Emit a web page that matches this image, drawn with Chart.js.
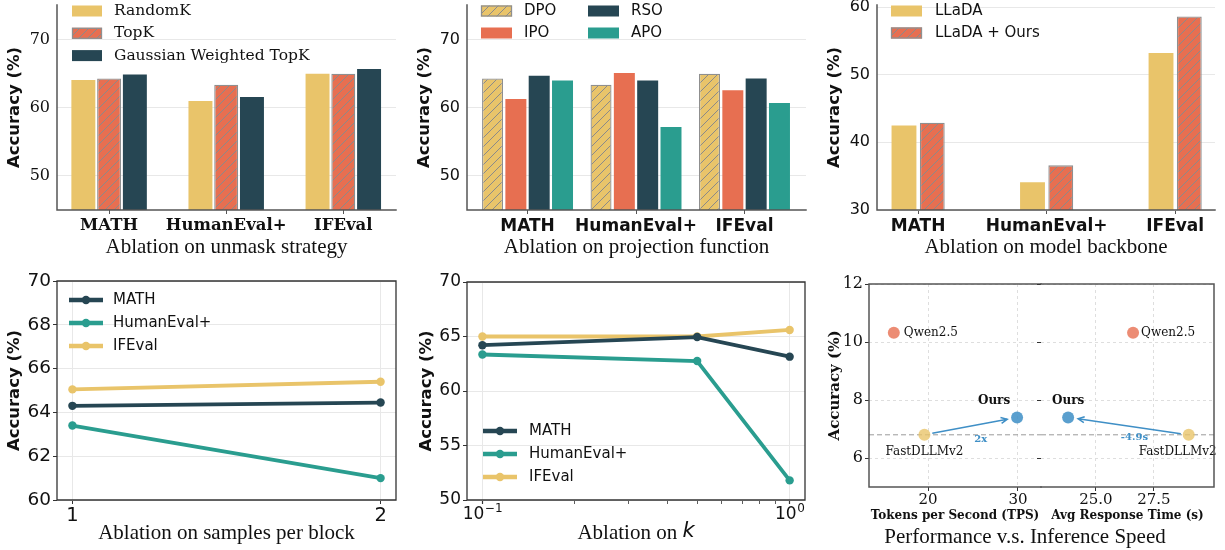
<!DOCTYPE html>
<html>
<head>
<meta charset="utf-8">
<script src="https://cdn.jsdelivr.net/npm/chart.js@4.4.1/dist/chart.umd.min.js"></script>
<style>
  html, body { margin: 0; padding: 0; background: #fff; }
  #wrap { position: relative; width: 1225px; height: 550px; }
  #wrap canvas { position: absolute; left: 0; top: 0; }
</style>
</head>
<body>
<div id="wrap">
  <canvas id="unmask" width="1225" height="550"></canvas>
  <canvas id="projection" width="1225" height="550"></canvas>
  <canvas id="backbone" width="1225" height="550"></canvas>
  <canvas id="samples" width="1225" height="550"></canvas>
  <canvas id="kAblation" width="1225" height="550"></canvas>
  <canvas id="speedTps" width="1225" height="550"></canvas>
  <canvas id="speedTime" width="1225" height="550"></canvas>
</div>
<script>
// ---- data ----
const benchmarks = ['MATH', 'HumanEval+', 'IFEval'];

// ablation on unmask strategy
const randomK = [64.1, 61.0, 65.0];
const topK = [64.3, 63.4, 65.0];
const gaussTopK = [64.9, 61.6, 65.7];

// ablation on projection function
const dpo = [64.3, 63.4, 65.0];
const ipo = [61.3, 65.1, 62.6];
const rso = [64.7, 64.0, 64.3];
const apo = [64.0, 57.2, 60.7];

// ablation on model backbone
const llada = [42.5, 34.1, 53.2];
const lladaOurs = [42.9, 36.6, 58.6];

// ablation on samples per block
const samplesPerBlock = [1, 2];
const samplesMath = [64.3, 64.45];
const samplesHuman = [63.4, 61.0];
const samplesIfeval = [65.05, 65.4];

// ablation on k
const kValues = [0.1, 0.5, 1.0];
const kMath = [64.2, 64.95, 63.15];
const kHuman = [63.35, 62.75, 51.8];
const kIfeval = [65.0, 65.0, 65.6];

// performance vs inference speed
const speedModels = ['Qwen2.5', 'FastDLLMv2', 'Ours'];
const tps = [16.2, 19.6, 29.9];
const respTime = [26.6, 29.0, 23.8];
const speedAcc = [10.32, 6.8, 7.4];
const speedupLabels = ['2x', '-4.9s'];

// ---- style ----
const W = 1225, H = 550;
const YELLOW = '#E9C46A', ORANGE = '#E76F51', DARK = '#264653', TEAL = '#2A9D8F';
const GRID = '#e8e8e8';
const SPINE = '#555555';
const INK = '#111111';
const ARROW = '#3f8fc6';

Chart.defaults.color = INK;
Chart.defaults.animation = false;

function pad(box, yW, xH) {
    return { left: box.l - yW, top: box.t, right: W - box.r, bottom: H - box.b - xH };
}

function fixY(width) {
    return s => { s.width = width; s.paddingTop = 0; s.paddingBottom = 0; };
}

function fixX(height) {
    return s => { s.height = height; s.paddingLeft = 0; s.paddingRight = 0; };
}

function setTicks(values) {
    return s => { s.ticks = values.map(v => ({ value: v })); };
}

function hatch(canvasId, color) {
    const t = document.createElement('canvas');
    t.width = 9; t.height = 9;
    const g = t.getContext('2d');
    g.fillStyle = color;
    g.fillRect(0, 0, 9, 9);
    g.strokeStyle = '#8a8a8a';
    g.lineWidth = 1;
    g.beginPath();
    g.moveTo(-1, 10); g.lineTo(10, -1);
    g.moveTo(-2, 2); g.lineTo(2, -2);
    g.moveTo(7, 11); g.lineTo(11, 7);
    g.stroke();
    return document.getElementById(canvasId).getContext('2d').createPattern(t, 'repeat');
}

// axis spines drawn on the chart area edges
function frame(sides, color, width) {
    return {
        id: 'frame',
        afterDraw(chart) {
            const { ctx, chartArea: a } = chart;
            ctx.save();
            ctx.strokeStyle = color;
            ctx.lineWidth = width;
            ctx.lineCap = 'square';
            ctx.setLineDash([]);
            ctx.beginPath();
            if (sides.includes('l')) { ctx.moveTo(a.left, a.top); ctx.lineTo(a.left, a.bottom); }
            if (sides.includes('r')) { ctx.moveTo(a.right, a.top); ctx.lineTo(a.right, a.bottom); }
            if (sides.includes('t')) { ctx.moveTo(a.left, a.top); ctx.lineTo(a.right, a.top); }
            if (sides.includes('b')) { ctx.moveTo(a.left, a.bottom); ctx.lineTo(a.right, a.bottom); }
            ctx.stroke();
            ctx.restore();
        }
    };
}

// legend drawn inside the axes, like matplotlib
function inlineLegend(cfg) {
    return {
        id: 'inlineLegend',
        afterDraw(chart) {
            const { ctx } = chart;
            ctx.save();
            ctx.font = cfg.font;
            ctx.textBaseline = 'middle';
            ctx.textAlign = 'left';
            chart.data.datasets.forEach((ds, i) => {
                const col = Math.floor(i / cfg.perCol);
                const row = i % cfg.perCol;
                const x = cfg.x + col * (cfg.colW || 0);
                const y = cfg.y + row * cfg.rowH;
                if (cfg.kind === 'box') {
                    ctx.fillStyle = ds.backgroundColor;
                    ctx.fillRect(x, y - cfg.boxH / 2, cfg.boxW, cfg.boxH);
                    if (ds.borderWidth) {
                        ctx.strokeStyle = ds.borderColor;
                        ctx.lineWidth = ds.borderWidth;
                        ctx.strokeRect(x + 0.5, y - cfg.boxH / 2 + 0.5, cfg.boxW - 1, cfg.boxH - 1);
                    }
                } else {
                    ctx.strokeStyle = ds.borderColor;
                    ctx.lineWidth = ds.borderWidth + 0.5;
                    ctx.beginPath();
                    ctx.moveTo(x, y); ctx.lineTo(x + cfg.boxW, y);
                    ctx.stroke();
                    ctx.fillStyle = ds.borderColor;
                    ctx.beginPath();
                    ctx.arc(x + cfg.boxW / 2, y, ds.pointRadius, 0, Math.PI * 2);
                    ctx.fill();
                }
                ctx.fillStyle = INK;
                ctx.fillText(ds.label, x + cfg.boxW + cfg.gap, y);
            });
            ctx.restore();
        }
    };
}

function barPanel(id, cfg) {
    const yW = cfg.box.l - cfg.yTitleX + 16.5 * 0.6;
    const xH = cfg.xTitleY - cfg.box.b + 21 * 0.6;
    return new Chart(document.getElementById(id), {
        type: 'bar',
        data: {
            datasets: cfg.series.map(s => ({
                label: s.label,
                data: s.values.map((v, i) => ({ x: i, y: v })),
                backgroundColor: s.fill,
                borderColor: s.edge || 'rgba(0,0,0,0)',
                borderWidth: s.edge ? 1.3 : 0,
                borderSkipped: false,
                categoryPercentage: cfg.catPct,
                barPercentage: cfg.barPct
            }))
        },
        options: {
            responsive: false,
            events: [],
            layout: { padding: pad(cfg.box, yW, xH) },
            plugins: { legend: { display: false }, tooltip: { enabled: false } },
            scales: {
                x: {
                    type: 'linear',
                    offset: false,
                    min: cfg.xMin,
                    max: cfg.xMax,
                    afterBuildTicks: setTicks(benchmarks.map((b, i) => i)),
                    afterFit: fixX(xH),
                    grid: { drawOnChartArea: false, offset: false, color: 'rgba(0,0,0,0)', tickColor: SPINE, tickLength: 4 },
                    border: { display: false },
                    ticks: {
                        callback: v => benchmarks[Math.round(v)],
                        font: cfg.catFont,
                        color: INK,
                        padding: 2,
                        maxRotation: 0,
                        autoSkip: false
                    },
                    title: {
                        display: true,
                        text: cfg.xTitle,
                        font: { family: 'Liberation Serif', size: 21 },
                        color: INK,
                        padding: 0
                    }
                },
                y: {
                    min: cfg.yMin,
                    max: cfg.yMax,
                    afterBuildTicks: setTicks(cfg.yTicks),
                    afterFit: fixY(yW),
                    grid: { color: GRID, drawTicks: false },
                    border: { display: false },
                    ticks: { font: cfg.tickFont, color: INK, padding: 7 },
                    title: {
                        display: true,
                        text: 'Accuracy (%)',
                        font: { family: 'DejaVu Sans', weight: 'bold', size: 16.5 },
                        color: INK,
                        padding: 0
                    }
                }
            }
        },
        plugins: [frame('lb', SPINE, 1.5), inlineLegend(cfg.legend)]
    });
}

function lineSeries(label, color, xs, ys) {
    return {
        label: label,
        data: xs.map((x, i) => ({ x: x, y: ys[i] })),
        borderColor: color,
        backgroundColor: color,
        borderWidth: 3.8,
        pointRadius: 4.2,
        pointBackgroundColor: color,
        pointBorderWidth: 0,
        tension: 0
    };
}

function linePanel(id, cfg) {
    const yW = cfg.box.l - cfg.yTitleX + 16.5 * 0.6;
    const xH = cfg.xTitleY - cfg.box.b + 21 * 0.6;
    return new Chart(document.getElementById(id), {
        type: 'line',
        data: { datasets: cfg.series },
        options: {
            responsive: false,
            events: [],
            layout: { padding: pad(cfg.box, yW, xH) },
            plugins: { legend: { display: false }, tooltip: { enabled: false } },
            scales: {
                x: Object.assign({
                    min: cfg.xMin,
                    max: cfg.xMax,
                    afterFit: fixX(xH),
                    border: { display: false },
                    ticks: {
                        font: { family: 'DejaVu Sans', size: cfg.xTickSize },
                        color: INK,
                        padding: 0,
                        maxRotation: 0,
                        autoSkip: false
                    },
                    title: {
                        display: !!cfg.xTitle,
                        text: cfg.xTitle || '',
                        font: { family: 'Liberation Serif', size: 21 },
                        color: INK,
                        padding: 0
                    }
                }, cfg.xScale),
                y: {
                    min: cfg.yMin,
                    max: cfg.yMax,
                    afterBuildTicks: setTicks(cfg.yTicks),
                    afterFit: fixY(yW),
                    grid: { color: GRID, tickColor: '#333', tickLength: 4 },
                    border: { display: false },
                    ticks: { font: { family: 'DejaVu Sans', size: cfg.yTickSize }, color: INK, padding: 2 },
                    title: {
                        display: true,
                        text: 'Accuracy (%)',
                        font: { family: 'DejaVu Sans', weight: 'bold', size: 16.5 },
                        color: INK,
                        padding: 0
                    }
                }
            }
        },
        plugins: [frame('lrtb', '#333', 1.3), inlineLegend(cfg.legend)].concat(cfg.extra || [])
    });
}

// ---- top row: bar panels ----
barPanel('unmask', {
    box: { l: 57, r: 396, t: 5, b: 210 },
    yTitleX: 15, xTitleY: 247,
    xMin: -0.445, xMax: 2.45, yMin: 45, yMax: 75.1, yTicks: [50, 60, 70],
    catPct: 0.66, barPct: 0.93,
    catFont: { family: 'DejaVu Serif', weight: 'bold', size: 16.5 },
    tickFont: { family: 'DejaVu Serif', size: 16 },
    xTitle: 'Ablation on unmask strategy',
    series: [
        { label: 'RandomK', values: randomK, fill: YELLOW },
        { label: 'TopK', values: topK, fill: hatch('unmask', ORANGE), edge: '#8f8f8f' },
        { label: 'Gaussian Weighted TopK', values: gaussTopK, fill: DARK }
    ],
    legend: { kind: 'box', x: 72, y: 11, rowH: 22.3, perCol: 3, boxW: 30, boxH: 11, gap: 12, font: '15.5px "DejaVu Serif"' }
});

barPanel('projection', {
    box: { l: 467, r: 806, t: 5, b: 210 },
    yTitleX: 425, xTitleY: 247,
    xMin: -0.558, xMax: 2.567, yMin: 45, yMax: 75.1, yTicks: [50, 60, 70],
    catPct: 0.86, barPct: 0.9,
    catFont: { family: 'DejaVu Sans', weight: 'bold', size: 17 },
    tickFont: { family: 'DejaVu Sans', size: 16 },
    xTitle: 'Ablation on projection function',
    series: [
        { label: 'DPO', values: dpo, fill: hatch('projection', YELLOW), edge: '#8f8f8f' },
        { label: 'IPO', values: ipo, fill: ORANGE },
        { label: 'RSO', values: rso, fill: DARK },
        { label: 'APO', values: apo, fill: TEAL }
    ],
    legend: { kind: 'box', x: 481, y: 11, rowH: 22, perCol: 2, colW: 107, boxW: 31, boxH: 11, gap: 12, font: '15px "DejaVu Sans"' }
});

barPanel('backbone', {
    box: { l: 877, r: 1215, t: 5, b: 210 },
    yTitleX: 835, xTitleY: 247,
    xMin: -0.32, xMax: 2.31, yMin: 30, yMax: 60.3, yTicks: [30, 40, 50, 60],
    catPct: 0.44, barPct: 0.88,
    catFont: { family: 'DejaVu Sans', weight: 'bold', size: 17 },
    tickFont: { family: 'DejaVu Sans', size: 16 },
    xTitle: 'Ablation on model backbone',
    series: [
        { label: 'LLaDA', values: llada, fill: YELLOW },
        { label: 'LLaDA + Ours', values: lladaOurs, fill: hatch('backbone', ORANGE), edge: '#8f8f8f' }
    ],
    legend: { kind: 'box', x: 891, y: 11, rowH: 22, perCol: 2, boxW: 31, boxH: 11, gap: 13, font: '15px "DejaVu Sans"' }
});

// ---- bottom row: line panels ----
linePanel('samples', {
    box: { l: 57, r: 396, t: 281, b: 500 },
    yTitleX: 15, xTitleY: 533,
    xTickSize: 19.5, yTickSize: 18.5,
    xMin: 0.95, xMax: 2.05, yMin: 60, yMax: 70, yTicks: [60, 62, 64, 66, 68, 70],
    xTitle: 'Ablation on samples per block',
    xScale: {
        type: 'linear',
        afterBuildTicks: setTicks(samplesPerBlock),
        grid: { color: GRID, tickColor: '#333', tickLength: 4 }
    },
    series: [
        lineSeries('MATH', DARK, samplesPerBlock, samplesMath),
        lineSeries('HumanEval+', TEAL, samplesPerBlock, samplesHuman),
        lineSeries('IFEval', YELLOW, samplesPerBlock, samplesIfeval)
    ],
    legend: { kind: 'line', x: 69, y: 300, rowH: 23, perCol: 3, boxW: 34, gap: 10, font: '15px "DejaVu Sans"' }
});

const isDecade = v => Math.abs(v - 0.1) < 1e-9 || Math.abs(v - 1) < 1e-9;

linePanel('kAblation', {
    box: { l: 467, r: 805, t: 282, b: 500 },
    yTitleX: 427, xTitleY: 533,
    xTickSize: 17, yTickSize: 17,
    xMin: 0.0891, xMax: 1.122, yMin: 50, yMax: 70, yTicks: [50, 55, 60, 65, 70],
    xScale: {
        type: 'logarithmic',
        afterBuildTicks: setTicks([1, 2, 3, 4, 5, 6, 7, 8, 9, 10].map(i => i / 10)),
        grid: {
            color: c => (c.tick && isDecade(c.tick.value)) ? GRID : 'rgba(0,0,0,0)',
            tickColor: '#333',
            tickWidth: c => (c.tick && isDecade(c.tick.value)) ? 1.2 : 0.8,
            tickLength: 4
        },
        ticks: { display: false }
    },
    series: [
        lineSeries('MATH', DARK, kValues, kMath),
        lineSeries('HumanEval+', TEAL, kValues, kHuman),
        lineSeries('IFEval', YELLOW, kValues, kIfeval)
    ],
    legend: { kind: 'line', x: 483, y: 431, rowH: 23, perCol: 3, boxW: 34, gap: 12, font: '15px "DejaVu Sans"' },
    extra: [{
        id: 'kLabels',
        afterDraw(chart) {
            const { ctx, chartArea: a } = chart;
            const xs = chart.scales.x;
            ctx.save();
            ctx.fillStyle = INK;
            ctx.textBaseline = 'alphabetic';
            ctx.textAlign = 'left';
            // decade tick labels, 10 with a raised exponent
            [[0.1, '\u22121'], [1, '0']].forEach(([v, exp]) => {
                ctx.font = '17px "DejaVu Sans"';
                const wb = ctx.measureText('10').width;
                ctx.font = '12px "DejaVu Sans"';
                const we = ctx.measureText(exp).width;
                const x0 = xs.getPixelForValue(v) - (wb + we) / 2;
                ctx.font = '17px "DejaVu Sans"';
                ctx.fillText('10', x0, 519);
                ctx.font = '12px "DejaVu Sans"';
                ctx.fillText(exp, x0 + wb + 0.5, 512);
            });
            // axis label with an italic k
            ctx.textBaseline = 'middle';
            const head = 'Ablation on ';
            ctx.font = '21px "Liberation Serif"';
            const w1 = ctx.measureText(head).width;
            ctx.font = 'italic 21px "DejaVu Sans"';
            const w2 = ctx.measureText('k').width;
            const x0 = (a.left + a.right) / 2 - (w1 + w2) / 2;
            ctx.font = '21px "Liberation Serif"';
            ctx.fillText(head, x0, 533);
            ctx.font = 'italic 21px "DejaVu Sans"';
            ctx.fillText('k', x0 + w1, 532);
            ctx.restore();
        }
    }]
});

// ---- performance vs inference speed ----
const speedColors = ['rgba(231,111,81,0.8)', 'rgba(233,196,106,0.8)', 'rgba(67,146,199,0.88)'];

function speedAnnotations(cfg) {
    return {
        id: 'speedAnnotations',
        beforeDatasetsDraw(chart) {
            const { ctx, chartArea: a } = chart;
            const y = chart.scales.y.getPixelForValue(speedAcc[1]);
            ctx.save();
            ctx.strokeStyle = '#9a9a9a';
            ctx.lineWidth = 1;
            ctx.setLineDash([5, 3]);
            ctx.beginPath();
            ctx.moveTo(a.left, y); ctx.lineTo(a.right, y);
            ctx.stroke();
            ctx.restore();
        },
        afterDatasetsDraw(chart) {
            const { ctx } = chart;
            const pts = chart.getDatasetMeta(0).data;
            const from = pts[1], to = pts[2];
            const dx = to.x - from.x, dy = to.y - from.y;
            const len = Math.hypot(dx, dy);
            const ux = dx / len, uy = dy / len;
            const sx = from.x + ux * 8, sy = from.y + uy * 8;
            const ex = to.x - ux * 10, ey = to.y - uy * 10;
            ctx.save();
            ctx.strokeStyle = ARROW;
            ctx.lineWidth = 1.5;
            ctx.beginPath();
            ctx.moveTo(sx, sy); ctx.lineTo(ex, ey);
            const ang = Math.atan2(ey - sy, ex - sx);
            ctx.moveTo(ex - 7 * Math.cos(ang - 0.45), ey - 7 * Math.sin(ang - 0.45));
            ctx.lineTo(ex, ey);
            ctx.lineTo(ex - 7 * Math.cos(ang + 0.45), ey - 7 * Math.sin(ang + 0.45));
            ctx.stroke();

            ctx.textBaseline = 'middle';
            ctx.fillStyle = ARROW;
            ctx.font = 'bold 10px "DejaVu Serif"';
            ctx.textAlign = 'center';
            ctx.fillText(cfg.gain, (from.x + to.x) / 2 + cfg.gainDx, (from.y + to.y) / 2 + cfg.gainDy);

            ctx.fillStyle = INK;
            ctx.font = '12px "DejaVu Serif"';
            ctx.textAlign = 'left';
            ctx.fillText(speedModels[0], pts[0].x + cfg.qwenDx, pts[0].y);
            ctx.textAlign = 'center';
            ctx.fillText(speedModels[1], pts[1].x + cfg.fastDx, pts[1].y + 17);
            ctx.font = 'bold 12px "DejaVu Serif"';
            ctx.fillText(speedModels[2], pts[2].x + cfg.oursDx, pts[2].y - 17);

            if (cfg.caption) {
                ctx.font = '21px "Liberation Serif"';
                ctx.fillText(cfg.caption, 1025, 537);
            }
            ctx.restore();
        }
    };
}

function speedPanel(id, cfg) {
    const yW = cfg.yTitle ? cfg.box.l - 835 + 15 * 0.6 : 0;
    const xH = 516 - cfg.box.b + 12 * 0.6;
    return new Chart(document.getElementById(id), {
        type: 'scatter',
        data: {
            datasets: [{
                label: 'models',
                data: cfg.xs.map((x, i) => ({ x: x, y: speedAcc[i] })),
                backgroundColor: speedColors,
                pointRadius: 6,
                pointBorderWidth: 0
            }]
        },
        options: {
            responsive: false,
            events: [],
            layout: { padding: pad(cfg.box, yW, xH) },
            plugins: { legend: { display: false }, tooltip: { enabled: false } },
            scales: {
                x: {
                    type: 'linear',
                    min: cfg.xMin,
                    max: cfg.xMax,
                    afterBuildTicks: setTicks(cfg.xTicks),
                    afterFit: fixX(xH),
                    grid: { color: '#dedede', tickColor: '#333', tickLength: 4 },
                    border: { display: false, dash: [3, 3] },
                    ticks: {
                        callback: cfg.xFormat,
                        font: { family: 'DejaVu Serif', size: 15 },
                        color: INK,
                        padding: 0,
                        maxRotation: 0,
                        autoSkip: false
                    },
                    title: {
                        display: true,
                        text: cfg.xTitle,
                        font: { family: 'DejaVu Serif', weight: 'bold', size: 12 },
                        color: INK,
                        padding: 0
                    }
                },
                y: {
                    min: 5,
                    max: 12,
                    afterBuildTicks: setTicks([6, 8, 10, 12]),
                    afterFit: fixY(yW),
                    grid: { color: '#dedede', tickColor: '#333', tickLength: 4 },
                    border: { display: false, dash: [3, 3] },
                    ticks: { display: !!cfg.yTitle, font: { family: 'DejaVu Serif', size: 16 }, color: INK, padding: 2 },
                    title: {
                        display: !!cfg.yTitle,
                        text: 'Accuracy (%)',
                        font: { family: 'DejaVu Serif', weight: 'bold', size: 15 },
                        color: INK,
                        padding: 0
                    }
                }
            }
        },
        plugins: [frame(cfg.sides, SPINE, 1.5), speedAnnotations(cfg.notes)]
    });
}

speedPanel('speedTps', {
    box: { l: 869, r: 1041, t: 284, b: 487 },
    yTitle: true,
    xs: tps,
    xMin: 13.44, xMax: 32.56, xTicks: [20, 30],
    xFormat: v => String(v),
    xTitle: 'Tokens per Second (TPS)',
    sides: 'ltb',
    notes: { gain: speedupLabels[0], gainDx: 10, gainDy: 13, qwenDx: 10, fastDx: 0, oursDx: -23,
             caption: 'Performance v.s. Inference Speed' }
});

speedPanel('speedTime', {
    box: { l: 1041, r: 1214, t: 284, b: 487 },
    yTitle: false,
    xs: respTime,
    xMin: 22.63, xMax: 30.09, xTicks: [25, 27.5],
    xFormat: v => v.toFixed(1),
    xTitle: 'Avg Response Time (s)',
    sides: 'rtb',
    notes: { gain: speedupLabels[1], gainDx: 6, gainDy: 11, qwenDx: 8, fastDx: -11, oursDx: 0 }
});
</script>
</body>
</html>
